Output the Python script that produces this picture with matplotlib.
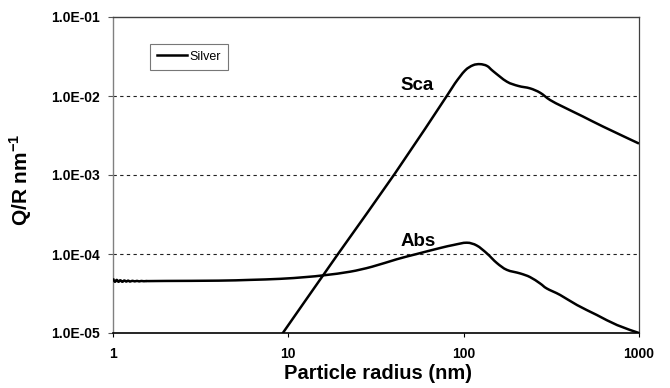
import matplotlib
matplotlib.use("Agg")
import numpy as np
import matplotlib.pyplot as plt
from matplotlib.path import Path
from matplotlib.patches import PathPatch
from matplotlib.lines import Line2D
from matplotlib.ticker import FixedLocator, FuncFormatter, NullLocator

plt.rcParams['font.family'] = ['Liberation Sans', 'DejaVu Sans']
plt.rcParams['mathtext.fontset'] = 'custom'
plt.rcParams['mathtext.rm'] = 'Liberation Sans'
plt.rcParams['mathtext.bf'] = 'Liberation Sans:bold'

# ---- data ----
abs_r = [1.0, 1.025, 1.05, 1.075, 1.10, 1.13, 1.16, 1.19, 1.22, 1.25, 1.29, 1.33,
         1.37, 1.41, 1.45, 1.5, 1.55, 1.6, 2.0, 4.0, 6.0, 9.0, 12.5, 16.2, 22.5,
         30.0, 41.7, 54.0, 73.3, 87.4, 104.2, 118.8, 135.5, 154.5, 176.2,
         209.8, 239.2, 272.8, 297.9, 355.0, 443.0, 575.0, 750.0, 1000.0]
abs_q = [4.9e-5, 4.45e-5, 4.7e-5, 4.45e-5, 4.65e-5, 4.45e-5, 4.62e-5, 4.48e-5,
         4.6e-5, 4.48e-5, 4.58e-5, 4.5e-5, 4.57e-5, 4.5e-5, 4.56e-5, 4.52e-5,
         4.55e-5, 4.54e-5, 4.56e-5, 4.6e-5, 4.7e-5, 4.85e-5, 5.1e-5, 5.4e-5, 5.97e-5,
         6.9e-5, 8.6e-5, 1.0e-4, 1.19e-4, 1.30e-4, 1.39e-4, 1.28e-4, 1.02e-4,
         7.7e-5, 6.3e-5, 5.68e-5, 5.1e-5, 4.24e-5, 3.66e-5, 3.03e-5, 2.26e-5,
         1.69e-5, 1.26e-5, 1.0e-5]

sca_r = [9.0, 19.2, 40.6, 80.1, 89.3, 101.8, 113.0, 124.0, 136.0, 147.7, 176.2,
         205.0, 239.0, 273.0, 311.0, 369.0, 479.0, 624.0, 1000.0]
sca_q = [9.0e-6, 1.0e-4, 1.05e-3, 1.0e-2, 1.45e-2, 2.1e-2, 2.45e-2, 2.53e-2,
         2.4e-2, 2.05e-2, 1.52e-2, 1.34e-2, 1.25e-2, 1.10e-2, 8.9e-3, 7.3e-3,
         5.5e-3, 4.1e-3, 2.5e-3]

x_ticks = [1, 10, 100, 1000]
y_ticks = [1e-5, 1e-4, 1e-3, 1e-2, 1e-1]
grid_levels = [1e-4, 1e-3, 1e-2]
series_name = "Silver"
curve_labels = ["Sca", "Abs"]


def smooth_path(xs, ys):
    """Catmull-Rom curve through the data points, built in log-log space."""
    p = np.column_stack([np.log10(xs), np.log10(ys)])
    n = len(p)
    verts = [p[0]]
    codes = [Path.MOVETO]
    for i in range(n - 1):
        p0 = p[max(i - 1, 0)]
        p1 = p[i]
        p2 = p[i + 1]
        p3 = p[min(i + 2, n - 1)]
        c1 = p1 + (p2 - p0) / 6.0
        c2 = p2 - (p3 - p1) / 6.0
        verts += [c1, c2, p2]
        codes += [Path.CURVE4] * 3
    return Path(10.0 ** np.array(verts), codes)


fig = plt.figure(figsize=(6.7, 3.88), dpi=100)
ax = fig.add_axes([113/670, 1-333/388, 526/670, 316/388])

ax.set_xscale('log')
ax.set_yscale('log')
ax.set_xlim(1, 1000)
ax.set_ylim(1e-5, 1e-1)

for g in grid_levels:
    ax.axhline(g, color='#222222', lw=0.8, ls=(0, (3, 3)), zorder=1)

for xs, ys in [(sca_r, sca_q), (abs_r, abs_q)]:
    patch = PathPatch(smooth_path(xs, ys), fill=False, ec='black', lw=1.8,
                      joinstyle='round', capstyle='butt', zorder=3)
    ax.add_patch(patch)

ax.text(43.4, 1.34e-2, curve_labels[0], fontsize=13.5, fontweight='bold',
        ha='left', va='center')
ax.text(43.4, 1.43e-4, curve_labels[1], fontsize=13.5, fontweight='bold',
        ha='left', va='center')

ax.xaxis.set_major_locator(FixedLocator(x_ticks))
ax.yaxis.set_major_locator(FixedLocator(y_ticks))
ax.xaxis.set_minor_locator(NullLocator())
ax.yaxis.set_minor_locator(NullLocator())
ax.xaxis.set_major_formatter(FuncFormatter(lambda v, p: f"{v:g}"))
ax.yaxis.set_major_formatter(FuncFormatter(lambda v, p: f"{v:.1E}"))

for lab in ax.get_xticklabels() + ax.get_yticklabels():
    lab.set_fontweight('bold')
ax.tick_params(axis='y', direction='out', length=3.6, width=0.8, color='#555555',
               labelsize=10, pad=6)
ax.tick_params(axis='x', direction='out', length=3, width=0.8, color='black',
               labelsize=10, pad=7)

ax.spines['left'].set_color('#808080')
ax.spines['left'].set_linewidth(1.0)
ax.spines['top'].set_color('#404040')
ax.spines['top'].set_linewidth(1.0)
ax.spines['right'].set_color('#404040')
ax.spines['right'].set_linewidth(0.9)
ax.spines['bottom'].set_color('black')
ax.spines['bottom'].set_linewidth(1.2)

ax.set_xlabel("Particle radius (nm)", fontsize=14.5, fontweight='bold')
ax.set_ylabel(r"Q/R nm$^{\mathbf{-1}}$", fontsize=15, fontweight='bold')
ax.xaxis.set_label_coords(0.504, -0.098)
ax.yaxis.set_label_coords(-0.15, 0.484)

handle = Line2D([], [], color='black', lw=1.8)
leg = ax.legend([handle], [series_name], loc='upper left',
                bbox_to_anchor=(0.070, 0.915), borderaxespad=0,
                frameon=True, fancybox=False, fontsize=9, handlelength=2.4,
                handletextpad=0.25, borderpad=0.55)
leg.get_frame().set_edgecolor('#555555')
leg.get_frame().set_linewidth(0.8)

fig.savefig("out.png", dpi=100)
